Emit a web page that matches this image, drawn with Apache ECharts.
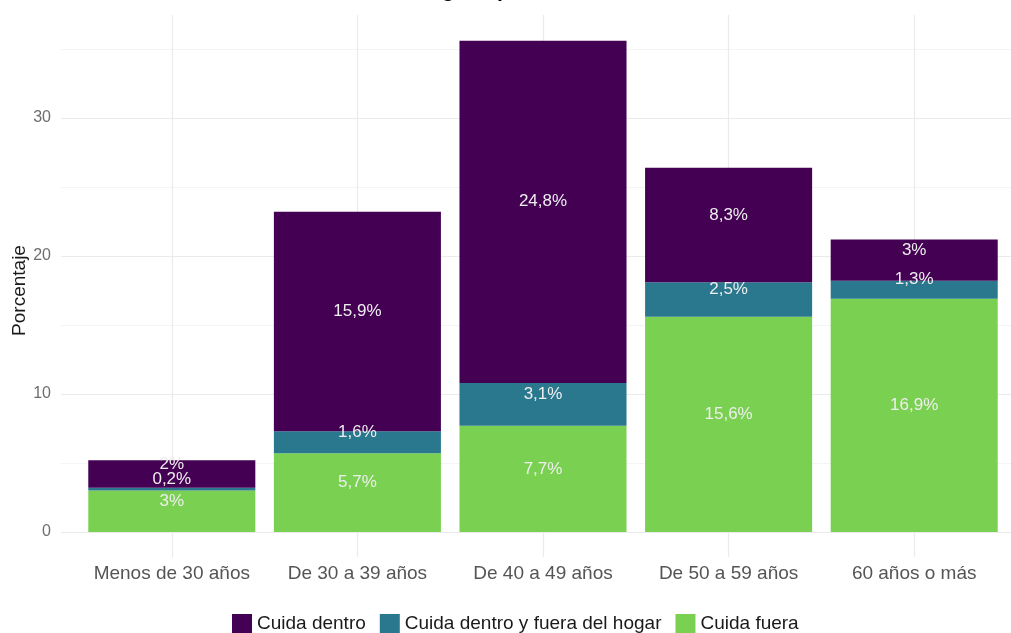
<!DOCTYPE html>
<html lang="es">
  <head>
    <meta charset="utf-8" />
    <title>Cuidado por edad</title>
    <script src="https://cdn.jsdelivr.net/npm/echarts@6/dist/echarts.min.js"></script>
    <style>
      html, body { margin: 0; padding: 0; background: #fff; }
      #chart { width: 1011px; height: 633px; }
    </style>
  </head>
  <body>
    <div id="chart"></div>
    <script>
      // data
      var categories = ['Menos de 30 años', 'De 30 a 39 años', 'De 40 a 49 años', 'De 50 a 59 años', '60 años o más']
      var cuidaFuera = [3, 5.7, 7.7, 15.6, 16.9]
      var cuidaAmbos = [0.2, 1.6, 3.1, 2.5, 1.3]
      var cuidaDentro = [2, 15.9, 24.8, 8.3, 3]
      var yTicks = [0, 10, 20, 30]

      var font = 'Liberation Sans, Arial, sans-serif'

      function pct (p) {
        return String(p.value).replace('.', ',') + '%'
      }

      function barSeries (name, data, color) {
        return {
          name: name,
          type: 'bar',
          stack: 'total',
          xAxisIndex: 1,
          yAxisIndex: 1,
          barWidth: '90%',
          data: data,
          itemStyle: { color: color },
          label: {
            show: true,
            position: 'inside',
            offset: [0, -10],
            formatter: pct,
            color: '#eeeeee',
            fontSize: 17,
            fontFamily: font
          }
        }
      }

      var chart = echarts.init(document.getElementById('chart'))
      chart.setOption({
        animation: false,
        graphic: [
          // title, cut off at the top of the picture
          { type: 'text', x: 479, y: 2, style: { text: 'Cuidado dentro o fuera del hogar,', font: 'bold 21px ' + font, fill: '#000', textAlign: 'right', textVerticalAlign: 'bottom' } },
          { type: 'text', x: 497, y: 2, style: { text: 'por edad', font: 'bold 21px ' + font, fill: '#000', textAlign: 'left', textVerticalAlign: 'bottom' } }
        ],
        legend: {
          left: 227,
          top: 609,
          icon: 'rect',
          itemWidth: 20,
          itemHeight: 20,
          itemGap: 14,
          data: ['Cuida dentro', 'Cuida dentro y fuera del hogar', 'Cuida fuera'],
          textStyle: { color: '#1a1a1a', fontSize: 19, fontFamily: font }
        },
        grid: [
          // background panel (gridlines + y labels)
          { left: 61, width: 964, top: 49, height: 483, outerBoundsMode: 'none', containLabel: false },
          // bars
          { left: 79, width: 928, top: 15, height: 517, outerBoundsMode: 'none', containLabel: false }
        ],
        xAxis: [
          { type: 'value', gridIndex: 0, show: false, min: 0, max: 1 },
          {
            type: 'category',
            gridIndex: 1,
            position: 'bottom',
            data: categories,
            axisLine: { show: false },
            axisTick: { show: true, alignWithLabel: true, length: 25, lineStyle: { color: '#ebebeb', width: 1.2 } },
            axisLabel: { interval: 0, color: '#555555', fontSize: 19, fontFamily: font, margin: 32 }
          },
          {
            type: 'category',
            gridIndex: 1,
            position: 'top',
            data: categories,
            axisLine: { show: false },
            axisLabel: { show: false },
            axisTick: { show: true, inside: true, alignWithLabel: true, length: 517, lineStyle: { color: '#ebebeb', width: 1.2 } }
          }
        ],
        yAxis: [
          {
            type: 'value',
            gridIndex: 0,
            min: 0,
            max: 35,
            interval: 5,
            name: 'Porcentaje',
            nameLocation: 'middle',
            nameRotate: 90,
            nameGap: 32,
            nameMoveOverlap: false,
            nameTextStyle: { color: '#1a1a1a', fontSize: 19, fontFamily: font },
            axisLine: { show: false },
            axisTick: { show: false },
            axisLabel: {
              color: '#6e6e6e',
              fontSize: 16,
              fontFamily: font,
              margin: 10,
              formatter: function (v) { return yTicks.indexOf(v) >= 0 ? String(v) : '' }
            },
            splitLine: { show: true, lineStyle: { color: ['#ebebeb', '#f4f4f4'], width: 1.2 } }
          },
          { type: 'value', gridIndex: 1, min: 0, max: 37.46, show: false, splitLine: { show: false } }
        ],
        series: [
          barSeries('Cuida fuera', cuidaFuera, '#7ad151'),
          barSeries('Cuida dentro y fuera del hogar', cuidaAmbos, '#2a788e'),
          barSeries('Cuida dentro', cuidaDentro, '#440154')
        ]
      })
    </script>
  </body>
</html>
